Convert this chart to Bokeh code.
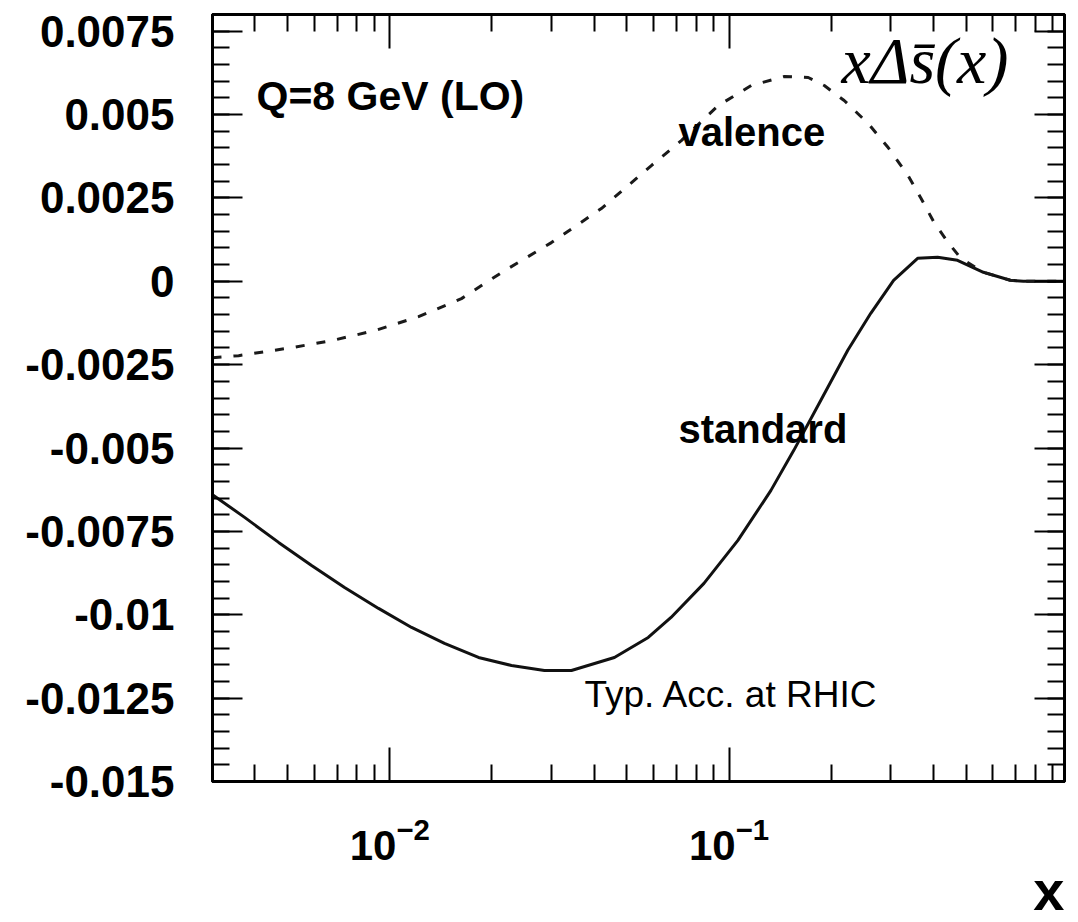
from bokeh.plotting import figure
from bokeh.models import (FixedTicker, LinearAxis, LogAxis, Label, Title,
                          CustomJSTickFormatter, Range1d)
from bokeh.embed import file_html
from bokeh.resources import INLINE

# ---- data ----
x_standard = [0.003, 0.003731, 0.004699, 0.005879, 0.007353, 0.009261,
              0.01159, 0.01449, 0.01825, 0.02284, 0.02856, 0.0343, 0.04592,
              0.05778, 0.06745, 0.08433, 0.1062, 0.1329, 0.1552, 0.1865,
              0.2239, 0.2617, 0.3056, 0.3597, 0.4120, 0.4716, 0.5623,
              0.6748, 0.7375, 0.975]
y_standard = [-0.0064, -0.00708, -0.00783, -0.00852, -0.00918, -0.00981,
              -0.01038, -0.01086, -0.01128, -0.01152, -0.01167, -0.01167,
              -0.01128, -0.01068, -0.01008, -0.00906, -0.00777, -0.00627,
              -0.00507, -0.00357, -0.00207, -0.00096, 0.00003, 0.00069,
              0.00072, 0.00063, 0.00027, 0.00003, 0.0, 0.0]

x_valence = [0.003, 0.003582, 0.005134, 0.006735, 0.009013, 0.01215,
             0.01626, 0.02133, 0.02994, 0.04202, 0.05902, 0.07232, 0.09296,
             0.1163, 0.1455, 0.1712, 0.1909, 0.2185, 0.2572, 0.2945,
             0.3373, 0.3684, 0.4024, 0.4426, 0.4833, 0.5623, 0.6748,
             0.7375, 0.975]
y_valence = [-0.00229, -0.00223, -0.00199, -0.00178, -0.00148, -0.00106,
             -0.00052, 0.00026, 0.00116, 0.00218, 0.00347, 0.00422, 0.00527,
             0.00587, 0.00614, 0.00611, 0.00587, 0.00542, 0.00473, 0.00401,
             0.00317, 0.00248, 0.00176, 0.00116, 0.00068, 0.00027, 0.00003,
             0.0, 0.0]

x_major_ticks = [0.01, 0.1]
x_minor_ticks = [0.003, 0.004, 0.005, 0.006, 0.007, 0.008, 0.009,
                 0.02, 0.03, 0.04, 0.05, 0.06, 0.07, 0.08, 0.09,
                 0.2, 0.3, 0.4, 0.5, 0.6, 0.7, 0.8, 0.9]
y_major_ticks = [-0.015, -0.0125, -0.01, -0.0075, -0.005, -0.0025, 0.0,
                 0.0025, 0.005, 0.0075]
y_minor_ticks = [round(-0.015 + 0.0005 * i, 4) for i in range(47)]

SANS = "Liberation Sans"

p = figure(width=1070, height=922, x_axis_type="log",
           x_range=Range1d(0.003, 0.975), y_range=Range1d(-0.015, 0.008),
           output_backend="svg", toolbar_location=None,
           min_border_left=212, min_border_right=6,
           min_border_top=14, min_border_bottom=141)
p.xgrid.visible = False
p.ygrid.visible = False
p.outline_line_color = "black"
p.outline_line_width = 3
p.background_fill_color = "white"
p.border_fill_color = "white"

xticker = FixedTicker(ticks=x_major_ticks, minor_ticks=x_minor_ticks)
yticker = FixedTicker(ticks=y_major_ticks, minor_ticks=y_minor_ticks)


def style_ticks(ax, major_len):
    ax.axis_line_color = "black"
    ax.axis_line_width = 3
    ax.major_tick_in = major_len
    ax.major_tick_out = 0
    ax.minor_tick_in = 17
    ax.minor_tick_out = 0
    ax.major_tick_line_width = 2
    ax.minor_tick_line_width = 2
    ax.major_tick_line_color = "black"
    ax.minor_tick_line_color = "black"


xa = p.xaxis[0]
xa.ticker = xticker
style_ticks(xa, 34)
xa.major_label_text_font = SANS
xa.major_label_text_font_style = "bold"
xa.major_label_text_font_size = "42px"
xa.major_label_text_color = "black"
xa.major_label_standoff = 35

# axis title "x", right-aligned under the frame
p.add_layout(Title(text="x", align="right", vertical_align="top",
                   text_font=SANS, text_font_size="56px",
                   text_font_style="bold", text_color="black",
                   standoff=-8), "below")

ya = p.yaxis[0]
ya.ticker = yticker
style_ticks(ya, 30)
ya.formatter = CustomJSTickFormatter(
    code="return parseFloat(tick.toFixed(4)).toString();")
ya.major_label_text_font = SANS
ya.major_label_text_font_style = "bold"
ya.major_label_text_font_size = "44px"
ya.major_label_text_color = "black"
ya.major_label_standoff = 38

blank = CustomJSTickFormatter(code="return '';")
top = LogAxis(ticker=xticker, formatter=blank, major_label_text_font_size="1px",
              major_label_standoff=0)
style_ticks(top, 34)
p.add_layout(top, "above")
right = LinearAxis(ticker=yticker, formatter=blank,
                   major_label_text_font_size="1px", major_label_standoff=0)
style_ticks(right, 30)
p.add_layout(right, "right")

p.line(x_standard, y_standard, line_color="#111111", line_width=3)
p.line(x_valence, y_valence, line_color="#1a1a1a", line_width=3,
       line_dash="9 12")


def label(x, y, text, size, style="bold", font=SANS):
    p.add_layout(Label(x=x, y=y, text=text, text_font=font,
                       text_font_size=size, text_font_style=style,
                       text_color="black", text_align="left",
                       text_baseline="middle"))


label(0.004045, 0.00556, "Q=8 GeV (LO)", "41px")
label(0.0709, 0.00448, "valence", "40px")
label(0.0709, -0.00444, "standard", "40px")
label(0.03747, -0.01238, "Typ. Acc. at RHIC", "37px", style="normal")
label(0.2144, 0.00662, "x\u0394s\u0304(x)", "66px", style="italic",
      font="Liberation Serif")

open("out.html", "w").write(file_html(p, INLINE))
